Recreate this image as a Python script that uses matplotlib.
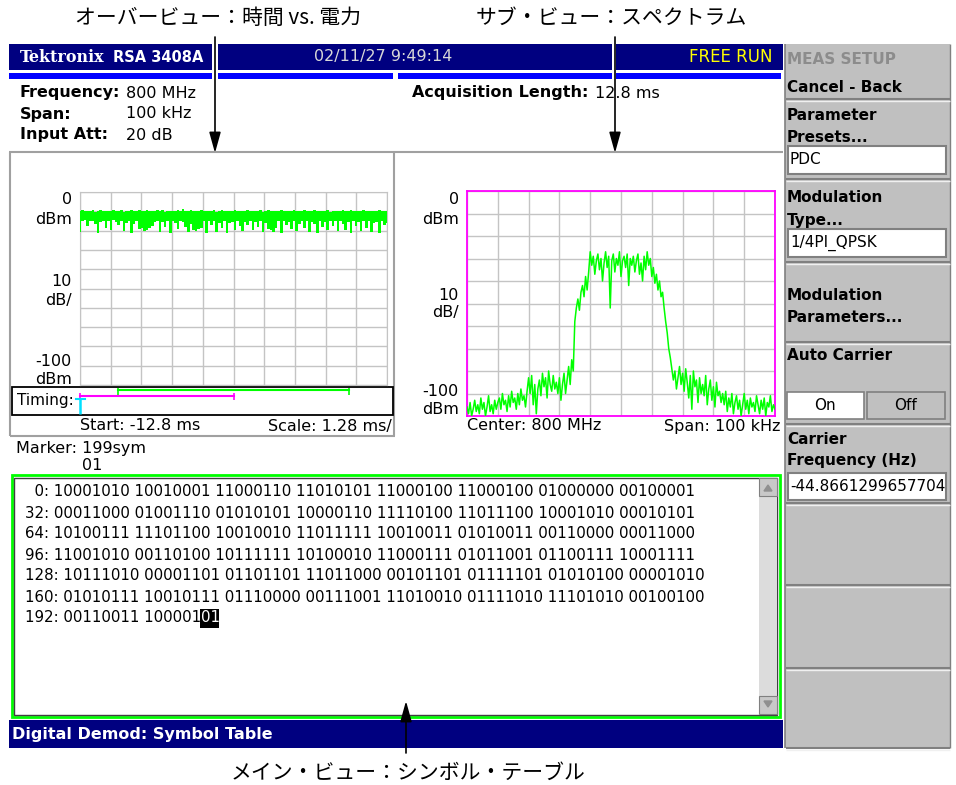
import numpy as np
import matplotlib.pyplot as plt
from matplotlib.patches import Rectangle, Polygon

plt.rcParams['font.family'] = ['DejaVu Sans', 'Noto Sans CJK JP']

# ---- data ----
# overview: power vs time, min/max envelope per bin (dBm), -12.8 ms .. 0 ms
power_max = [-9.8, -9.4, -10.0, -9.6, -9.9, -9.5, -10.2, -9.7, -9.3, -9.9,
             -10.1, -9.6, -9.8, -9.4, -10.0, -9.7, -9.5, -10.3, -9.8, -9.6,
             -9.2, -9.9, -10.0, -9.5, -9.7, -10.1, -9.4, -9.8, -9.6, -10.0,
             -9.5, -9.8, -9.3, -10.2, -9.7, -9.9, -9.6, -10.0, -9.4, -9.8,
             -8.8, -9.7, -9.9, -9.5, -10.1, -9.6, -9.8, -9.4, -10.0, -9.7,
             -9.6, -9.9, -9.5, -10.2, -9.8, -9.3, -9.7, -10.0, -9.6, -9.9,
             -9.4, -9.8, -10.1, -9.6, -9.7, -9.5, -9.9, -10.0, -9.6, -9.8,
             -9.5, -10.2, -9.7, -9.4, -9.9, -9.6, -10.0, -9.8, -9.5, -9.7,
             -10.0, -9.6, -9.8, -9.3, -9.9, -10.1, -9.7, -9.5, -9.8, -9.6,
             -9.9, -9.4, -9.7, -10.0, -9.6, -9.8, -9.5, -10.2, -9.7, -9.9,
             -9.6, -9.8, -9.4, -9.9, -10.0, -9.5, -9.7, -9.9, -9.6, -10.1,
             -9.5, -9.8, -9.7, -10.0, -9.6, -9.9, -9.4, -9.8, -9.7, -10.0]
power_min = [-20.5, -15.2, -14.6, -17.8, -15.0, -14.8, -16.4, -21.0, -15.3, -14.9,
             -18.6, -15.1, -19.8, -14.7, -15.5, -17.2, -14.9, -20.3, -16.0, -15.2,
             -21.5, -16.8, -15.0, -19.2, -18.7, -20.1, -19.5, -18.9, -17.6, -15.3,
             -14.8, -20.6, -15.4, -17.9, -15.1, -21.2, -14.9, -16.2, -19.4, -15.0,
             -15.6, -18.1, -20.8, -16.5, -19.7, -20.2, -19.0, -18.4, -15.2, -21.4,
             -15.0, -17.3, -14.8, -20.7, -15.9, -18.8, -15.1, -21.1, -16.3, -15.4,
             -19.6, -15.0, -17.7, -20.4, -15.3, -16.9, -14.9, -19.9, -15.5, -18.2,
             -15.1, -20.9, -16.1, -19.3, -19.8, -20.5, -18.6, -15.2, -21.3, -14.8,
             -17.0, -15.4, -19.1, -15.0, -20.0, -16.6, -15.2, -18.5, -14.9, -20.6,
             -15.3, -16.7, -21.0, -15.1, -18.0, -15.6, -19.7, -14.8, -17.5, -15.2,
             -20.2, -15.0, -16.4, -19.5, -15.4, -21.2, -15.1, -17.8, -15.3, -20.0,
             -15.2, -18.9, -14.9, -20.7, -16.0, -15.4, -21.4, -15.0, -17.1, -16.2]

# subview: spectrum (dBm), -50 kHz .. +50 kHz around 800 MHz
spectrum = [-96, -99, -94, -100, -97, -93, -98, -95, -99, -92,
            -97, -94, -100, -96, -91, -98, -95, -99, -93, -97, -94,
            -92, -97, -90, -95, -93, -98, -91, -96, -89, -94,
            -92, -97, -90, -95, -88, -93, -91, -96, -89,
            -83, -90, -82, -95, -86, -99, -88, -84, -91, -81,
            -87, -83, -92, -80, -86, -89, -82, -88, -85, -90,
            -83, -93, -86, -81, -90, -84, -78, -86, -75, -80,
            -58, -52, -48, -53, -45, -42, -47, -38, -44, -36,
            -27, -33, -29, -37, -31, -28, -35, -30, -40, -32,
            -27, -34, -29, -52, -31, -28, -36, -30, -33, -27,
            -38, -31, -29, -34, -28, -42, -30, -33, -29, -36,
            -31, -28, -37, -32, -40, -29, -35, -27, -33, -30, -38,
            -34, -41, -37, -44, -40, -47, -45, -52, -58, -63,
            -70, -74, -79, -84, -80, -88, -83, -78, -86, -81,
            -89, -79, -85, -92, -82, -97, -80, -87, -84, -94, -83, -90,
            -86, -91, -82, -95, -88, -84, -93, -87, -96, -85, -91, -89, -94, -90,
            -95, -89, -98, -92, -96, -90, -99, -94, -91, -97,
            -93, -100, -95, -90, -97, -93, -99, -92, -96, -94,
            -98, -91, -95, -99, -93, -97, -92, -100, -94, -96,
            -91, -98, -95, -97]

# timing indicators (ms)
green_span = [-11.2, -1.6]
magenta_span = [-12.8, -6.4]
trigger_ms = -12.8

sym_offsets = [0, 32, 64, 96, 128, 160, 192]
sym_rows = [
    "10001010 10010001 11000110 11010101 11000100 11000100 01000000 00100001",
    "00011000 01001110 01010101 10000110 11110100 11011100 10001010 00010101",
    "10100111 11101100 10010010 11011111 10010011 01010011 00110000 00011000",
    "11001010 00110100 10111111 10100010 11000111 01011001 01100111 10001111",
    "10111010 00001101 01101101 11011000 00101101 01111101 01010100 00001010",
    "01010111 10010111 01110000 00111001 11010010 01111010 11101010 00100100",
    "00110011 10000101",
]
marker_sym = "01"

NAVY = '#000080'
GREEN = '#00ff00'
MAGENTA = '#ff00ff'
GRID = '#c4c4c4'
MENU = '#c0c0c0'
JP = ['Noto Sans CJK JP', 'DejaVu Sans']
FS = 11.5

W, H = 956, 785
fig = plt.figure(figsize=(W / 100, H / 100), dpi=100)
fig.patch.set_facecolor('white')
bg = fig.add_axes([0, 0, 1, 1])
bg.set_xlim(0, W)
bg.set_ylim(H, 0)
bg.axis('off')


def box(x0, y0, x1, y1, fc, ec='none', lw=1.0, z=1):
    bg.add_patch(Rectangle((x0, y0), x1 - x0, y1 - y0, facecolor=fc,
                           edgecolor=ec, linewidth=lw, zorder=z))


def txt(x, y, s, size=FS, weight='normal', color='black', ha='left', family=None, z=5):
    kw = {}
    if family:
        kw['family'] = family
    return bg.text(x, y, s, fontsize=size, fontweight=weight, color=color,
                   ha=ha, va='center', zorder=z, **kw)


def hline(x0, x1, y, c, lw=1.0, z=2):
    bg.plot([x0, x1], [y, y], color=c, lw=lw, zorder=z, solid_capstyle='butt')


def vline(x, y0, y1, c, lw=1.0, z=2):
    bg.plot([x, x], [y0, y1], color=c, lw=lw, zorder=z, solid_capstyle='butt')


def px_axes(x0, y0, x1, y1):
    return fig.add_axes([x0 / W, 1 - y1 / H, (x1 - x0) / W, (y1 - y0) / H])


# ---- header bars ----
box(9, 44, 212, 70, NAVY)
box(218, 44, 612, 70, NAVY)
box(616, 44, 783, 70, NAVY)
box(9, 73, 212, 79, '#0000ff')
box(218, 73, 393, 79, '#0000ff')
box(398, 73, 612, 79, '#0000ff')
box(616, 73, 781, 79, '#0000ff')
txt(20, 57, 'Tektronix', size=11.5, weight='bold', color='white', family='DejaVu Serif')
txt(113, 57, 'RSA 3408A', size=10.5, weight='bold', color='white')
txt(383, 57, '02/11/27 9:49:14', size=11.5, color='#d8d8d8', ha='center')
txt(773, 57, 'FREE RUN', size=12, color='#ffff00', ha='right')

# ---- info lines ----
for y, lab, val in [(93, 'Frequency:', '800 MHz'), (114, 'Span:', '100 kHz'),
                    (135, 'Input Att:', '20 dB')]:
    txt(20, y, lab, weight='bold')
    txt(126, y, val)
txt(588, 93, 'Acquisition Length:', weight='bold', ha='right')
txt(595, 93, '12.8 ms')
hline(9, 783, 152, '#a0a0a0', lw=1.5)

# ---- overview panel ----
vline(10.5, 152, 436, '#a0a0a0', lw=1.5)
vline(394, 152, 436, '#a0a0a0', lw=1.5)
hline(10, 395, 436, '#a0a0a0', lw=1.5)
box(12, 387, 393, 415, 'none', ec='black', lw=1.3, z=3)
txt(17, 401, 'Timing:', size=11)
txt(80, 426, 'Start: -12.8 ms')
txt(392, 426, 'Scale: 1.28 ms/', ha='right')
txt(16, 448, 'Marker: 199sym')
txt(82, 465, '01')
for y, s in [(200, '0'), (219, 'dBm'), (282, '10'), (300, 'dB/'), (362, '-100'), (380, 'dBm')]:
    txt(72, y, s, ha='right')

ax1 = px_axes(80, 192, 387, 385)
t = np.linspace(-12.8, 0, len(power_max))
ax1.fill_between(t, power_min, power_max, step='mid', color=GREEN, lw=0, zorder=3)
ax1.set_xlim(-12.8, 0)
ax1.set_ylim(-100, 0)
ax1.set_xticks(np.linspace(-12.8, 0, 11))
ax1.set_yticks(np.linspace(-100, 0, 11))
ax1.grid(True, color=GRID, lw=1)
ax1.tick_params(length=0, labelbottom=False, labelleft=False)
for s in ax1.spines.values():
    s.set_color(GRID)

# timing bars, same time scale as the overview
axt = px_axes(80, 387, 387, 415)
axt.set_xlim(-12.8, 0)
axt.set_ylim(415, 387)
axt.axis('off')
axt.patch.set_alpha(0)
axt.plot(green_span, [390, 390], color=GREEN, lw=1.5, clip_on=False)
axt.vlines(green_span, 388, 395, color=GREEN, lw=1.2, clip_on=False)
axt.plot(magenta_span, [396, 396], color=MAGENTA, lw=1.5, clip_on=False)
axt.vlines(magenta_span, 393, 400, color=MAGENTA, lw=1.2, clip_on=False)
axt.vlines([trigger_ms], 399, 414, color='#00e0ff', lw=1.8, clip_on=False)
axt.plot([trigger_ms - 0.15, trigger_ms + 0.2], [399, 399], color='#00e0ff', lw=1.5, clip_on=False)

# ---- spectrum panel ----
for y, s in [(200, '0'), (219, 'dBm'), (295, '10'), (313, 'dB/'), (392, '-100'), (409, 'dBm')]:
    txt(459, y, s, ha='right')
txt(467, 426, 'Center: 800 MHz')
txt(781, 426, 'Span: 100 kHz', ha='right')

ax2 = px_axes(467, 191, 775, 416)
f = np.linspace(-50, 50, len(spectrum))
ax2.plot(f, spectrum, color=GREEN, lw=1.1, zorder=3)
ax2.set_xlim(-50, 50)
ax2.set_ylim(-100, 0)
ax2.set_xticks(np.linspace(-50, 50, 11))
ax2.set_yticks(np.linspace(-100, 0, 11))
ax2.grid(True, color=GRID, lw=1)
ax2.tick_params(length=0, labelbottom=False, labelleft=False)
for s in ax2.spines.values():
    s.set_color(MAGENTA)
    s.set_linewidth(1.3)

# ---- symbol table ----
box(12, 475, 780, 717, 'white', ec=GREEN, lw=2, z=1)
box(14.5, 477.5, 777.5, 714.5, 'none', ec='#404040', lw=1, z=2)
box(759, 478, 777, 714, '#dcdcdc', z=2)
for y0 in (478, 696):
    box(759, y0, 777, y0 + 18, '#c8c8c8', ec='#808080', lw=0.8, z=3)
bg.add_patch(Polygon([[764, 491], [772, 491], [768, 485]], closed=True, color='#909090', zorder=4))
bg.add_patch(Polygon([[764, 701], [772, 701], [768, 707]], closed=True, color='#909090', zorder=4))

row_y = 492
for off, row in zip(sym_offsets, sym_rows):
    lab = str(off).rjust(2, '\u2007') + ': '
    if off == sym_offsets[-1]:
        body = lab + row[:-len(marker_sym)]
        tt = txt(25, row_y, body, size=10.8)
        fig.canvas.draw()
        bb = tt.get_window_extent()
        x_end = bg.transData.inverted().transform((bb.x1, bb.y0))[0]
        txt(x_end, row_y, marker_sym, size=10.8, color='white', z=6)
        box(x_end - 1, row_y - 9.5, x_end + 18, row_y + 9.5, 'black', z=5)
    else:
        txt(25, row_y, lab + row, size=10.8)
    row_y += 21

# status bar
box(9, 720, 783, 748, NAVY)
txt(12, 734, 'Digital Demod: Symbol Table', color='white', weight='bold')

# ---- right menu ----
box(785, 44, 950, 748, MENU)
vline(785, 44, 748, '#808080', lw=1.2, z=3)
vline(950, 44, 748, '#808080', lw=1.0, z=3)
for y in (99, 179, 262, 342, 424, 503, 585, 668, 748):
    hline(786, 950, y, '#808080', lw=1.5, z=3)
    hline(786, 950, y + 1.5, '#f0f0f0', lw=1.0, z=3)

MB = dict(size=11, weight='bold')
txt(787, 59, 'MEAS SETUP', color='#8c8c8c', **MB)
txt(787, 87, 'Cancel - Back', **MB)
txt(787, 115, 'Parameter', **MB)
txt(787, 137, 'Presets...', **MB)
txt(787, 198, 'Modulation', **MB)
txt(787, 220, 'Type...', **MB)
txt(787, 295, 'Modulation', **MB)
txt(787, 317, 'Parameters...', **MB)
txt(787, 356, 'Auto Carrier', **MB)
txt(787, 440, 'Carrier', **MB)
txt(787, 461, 'Frequency (Hz)', **MB)

for y0, y1, val in [(146, 174, 'PDC'), (229, 257, '1/4PI_QPSK'), (473, 500, '-44.8661299657704')]:
    box(788, y0, 946, y1, 'white', ec='#808080', lw=1.5, z=3)
    txt(790, (y0 + y1) / 2, val, size=11)

box(787, 392, 864, 419, 'white', ec='#808080', lw=1.2, z=3)
box(867, 392, 945, 419, MENU, ec='#808080', lw=1.2, z=3)
txt(825, 406, 'On', size=11, ha='center')
txt(906, 406, 'Off', size=11, ha='center')

# ---- callout labels and arrows ----
AP = dict(arrowstyle='-|>,head_length=0.9,head_width=0.25', color='black', lw=1.2,
          mutation_scale=14, shrinkA=0, shrinkB=0)
txt(218, 18, 'オーバービュー：時間 vs. 電力', size=15, family=JP, ha='center')
txt(611, 18, 'サブ・ビュー：スペクトラム', size=15, family=JP, ha='center')
txt(408, 773, 'メイン・ビュー：シンボル・テーブル', size=15, family=JP, ha='center')
bg.annotate('', xy=(215, 153), xytext=(215, 37), arrowprops=AP, zorder=8)
bg.annotate('', xy=(615, 153), xytext=(615, 37), arrowprops=AP, zorder=8)
bg.annotate('', xy=(406, 701), xytext=(406, 753), arrowprops=AP, zorder=8)

fig.savefig('out.png', dpi=100, facecolor='white')
